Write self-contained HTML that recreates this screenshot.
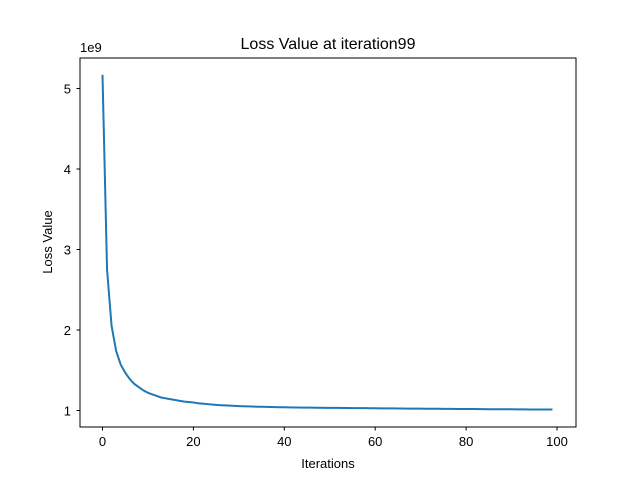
<!DOCTYPE html>
<html><head><meta charset="utf-8"><style>
html,body{margin:0;padding:0;background:#fff;}
svg{display:block;font-family:"Liberation Sans","DejaVu Sans",sans-serif;}
</style></head><body>
<svg id="chart" width="640" height="480" viewBox="0 0 640 480">
<rect x="0" y="0" width="640" height="480" fill="#fff"/>
<text x="328" y="49" font-size="16" text-anchor="middle" fill="#000">Loss Value at iteration99</text>
<text x="328" y="468" font-size="13" text-anchor="middle" fill="#000">Iterations</text>
<text x="52" y="242" font-size="13" text-anchor="middle" fill="#000" transform="rotate(-90 52 242)">Loss Value</text>
<text x="80" y="52" font-size="13" fill="#000">1e9</text>
<g id="xticks"></g>
<g id="yticks"></g>
<path id="line" fill="none" stroke="#1f77b4" stroke-width="2" stroke-linejoin="round"/>
<rect x="80" y="58" width="496" height="369" fill="none" stroke="#000" stroke-width="1"/>
</svg>
<script>
const iterations = [];
for (let i = 0; i < 100; i++) iterations.push(i);
const lossValues = [5.17,2.75,2.05,1.74,1.57,1.47,1.39,1.33,1.29,1.25,
1.22,1.20,1.18,1.16,1.15,1.14,1.13,1.12,1.11,1.105,
1.10,1.09,1.085,1.08,1.075,1.07,1.066,1.063,1.06,1.057,
1.055,1.053,1.051,1.049,1.047,1.046,1.045,1.044,1.042,1.041,
1.04,1.039,1.038,1.037,1.036,1.036,1.035,1.034,1.034,1.033,
1.033,1.032,1.032,1.031,1.031,1.03,1.03,1.029,1.029,1.028,
1.028,1.027,1.027,1.026,1.026,1.025,1.025,1.024,1.024,1.023,
1.023,1.022,1.022,1.021,1.021,1.02,1.02,1.02,1.019,1.019,
1.018,1.018,1.018,1.017,1.017,1.016,1.016,1.016,1.015,1.015,
1.015,1.014,1.014,1.014,1.013,1.013,1.013,1.012,1.012,1.012];
const xTickValues = [0,20,40,60,80,100];
const yTickValues = [1,2,3,4,5];
const NS = "http://www.w3.org/2000/svg";
function xScale(v){ return 102.5 + v * 4.545; }
function yScale(v){ return 410.5 - (v - 1) * 80.5; }
const xg = document.getElementById('xticks');
xTickValues.forEach(v => {
  const x = xScale(v);
  const l = document.createElementNS(NS,'line');
  l.setAttribute('x1',x); l.setAttribute('x2',x); l.setAttribute('y1',427); l.setAttribute('y2',430.5);
  l.setAttribute('stroke','#000');
  
  
  xg.appendChild(l);
  const t = document.createElementNS(NS,'text');
  t.setAttribute('x',x); t.setAttribute('y',446); t.setAttribute('font-size','13'); t.setAttribute('text-anchor','middle');
  t.textContent = v;
  
  
  xg.appendChild(t);
});
const yg = document.getElementById('yticks');
yTickValues.forEach(v => {
  const y = yScale(v);
  const l = document.createElementNS(NS,'line');
  l.setAttribute('x1',76.5); l.setAttribute('x2',80); l.setAttribute('y1',y); l.setAttribute('y2',y);
  l.setAttribute('stroke','#000');
  
  
  yg.appendChild(l);
  const t = document.createElementNS(NS,'text');
  t.setAttribute('x',71); t.setAttribute('y',y+5); t.setAttribute('font-size','13'); t.setAttribute('text-anchor','end');
  t.textContent = v;
  
  
  yg.appendChild(t);
});
document.getElementById('line').setAttribute('d',
  iterations.map((it,i) => (i ? 'L' : 'M') + xScale(it).toFixed(2) + ',' + yScale(lossValues[i]).toFixed(2)).join(' '));
</script>
</body></html>
